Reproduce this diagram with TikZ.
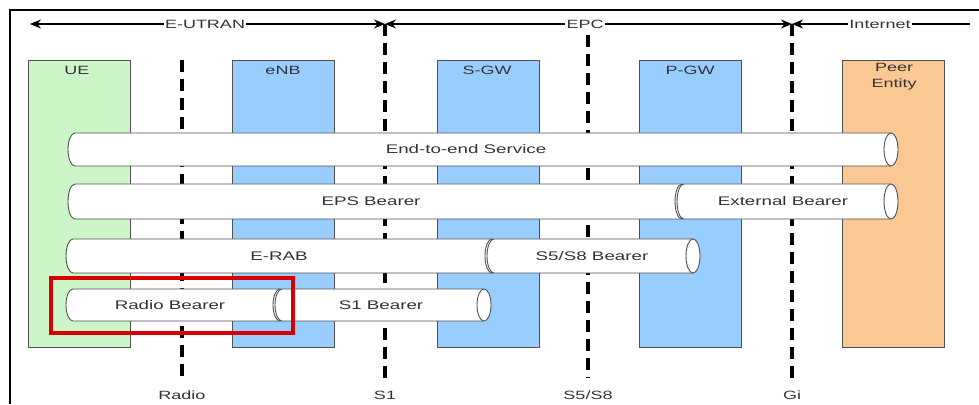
\documentclass[tikz,border=0pt]{standalone}
\usepackage{fontspec}
\setmainfont[FakeStretch=1.5]{Liberation Sans}
\usetikzlibrary{arrows.meta}
\definecolor{uegreen}{HTML}{CCF5C8}
\definecolor{nodeblue}{HTML}{99CCFF}
\definecolor{peerorange}{HTML}{FAC893}
\definecolor{txt}{HTML}{333333}
\definecolor{edge}{HTML}{505050}
\newcommand{\mypipe}[4]{% x1, x2, ytop, ybot (y up)
  \pgfmathsetmacro{\pry}{(#3-#4)/2}
  \filldraw[pipeline] (#1+7,#3) -- (#2,#3) arc[start angle=90,end angle=-90,x radius=7,y radius=\pry]
     -- (#1+7,#4) arc[start angle=270,end angle=90,x radius=7,y radius=\pry] -- cycle;
  \draw[pipeline] (#2,#3) arc[start angle=90,end angle=270,x radius=7,y radius=\pry];
}
\begin{document}
\begin{tikzpicture}[x=1pt,y=1pt,
  box/.style={draw=edge,line width=1pt,minimum width=102pt,minimum height=287pt,anchor=north west,inner sep=0pt},
  boxlabel/.style={text=txt,font=\fontsize{12}{14}\selectfont,align=center},
  pipeline/.style={draw=edge,fill=white,line width=0.9pt},
  pipelabel/.style={text=txt,font=\fontsize{12.5}{14}\selectfont},
  iface/.style={line width=3.2pt,dash pattern=on 12pt off 7pt},
  domainarrow/.style={line width=1.2pt,-{Stealth[length=11pt,width=9pt]}},
  toplabel/.style={text=txt,fill=white,inner sep=1pt,font=\fontsize{12}{14}\selectfont},
  botlabel/.style={text=txt,font=\fontsize{12}{14}\selectfont},
  highlight/.style={draw=red!85!black,line width=4pt}]
\useasboundingbox (0,0) rectangle (979,404);
% frame
\draw[line width=1.5pt] (10,0) -- (10,394) -- (979,394);
% boxes
\node[box,fill=uegreen] (ue) at (28,344) {};
\node[box,fill=nodeblue] (enb) at (232,344) {};
\node[box,fill=nodeblue] (sgw) at (437,344) {};
\node[box,fill=nodeblue] (pgw) at (639,344) {};
\node[box,fill=peerorange] (peer) at (842,344) {};
\node[boxlabel] (uel) at (77,334) {UE};
\node[boxlabel] (enbl) at (283,334) {eNB};
\node[boxlabel] (sgwl) at (487,334) {S-GW};
\node[boxlabel] (pgwl) at (690,334) {P-GW};
\node[boxlabel,font=\fontsize{12}{16}\selectfont] (peerl) at (894,327) {Peer\\Entity};
% interface lines
\coordinate (rt) at (182,344); \coordinate (rb) at (182,26);
\coordinate (s1t) at (385,380); \coordinate (s1b) at (385,26);
\coordinate (s5t) at (588,369); \coordinate (s5b) at (588,26);
\coordinate (git) at (792,380); \coordinate (gib) at (792,26);
\draw[iface] (rt) -- (rb);
\draw[iface] (s1t) -- (s1b);
\draw[iface] (s5t) -- (s5b);
\draw[iface] (git) -- (gib);
% domain arrows
\coordinate (al) at (30,380);
\coordinate (internetend) at (970,380);
\node[toplabel] (eutran) at (205,380) {E-UTRAN};
\node[toplabel] (epc) at (585,380) {EPC};
\node[toplabel] (inet) at (880,380) {Internet};
\draw[domainarrow] (eutran.west) -- (al);
\draw[domainarrow] (eutran.east) -- (s1t);
\draw[domainarrow] (epc.west) -- (s1t);
\draw[domainarrow] (epc.east) -- (git);
\draw[domainarrow] (inet.west) -- (git);
\draw[line width=1.2pt] (inet.east) -- (internetend);
% pipes
\mypipe{68}{891}{271}{238}
\node[pipelabel] (e2e) at (466,254.5) {End-to-end Service};
\mypipe{68}{682}{220}{185}
\mypipe{677}{891}{220}{185}
\node[pipelabel] (eps) at (371,202.5) {EPS Bearer};
\node[pipelabel] (ext) at (783,202.5) {External Bearer};
\mypipe{66}{492}{165}{131}
\mypipe{487}{693}{165}{131}
\node[pipelabel] (erab) at (279,148) {E-RAB};
\node[pipelabel] (s5s8) at (592,148) {S5/S8 Bearer};
\mypipe{66}{280}{115}{83}
\mypipe{275}{484}{115}{83}
\node[pipelabel] (rb) at (170,99) {Radio Bearer};
\node[pipelabel] (s1bearer) at (381,99) {S1 Bearer};
% highlight
\node[highlight,minimum width=242pt,minimum height=55pt,anchor=south west,inner sep=0pt] (hl) at (49,69) {};
% bottom labels
\node[botlabel] (radiol) at (182,9) {Radio};
\node[botlabel] (s1l) at (385,9) {S1};
\node[botlabel] (s5l) at (588,9) {S5/S8};
\node[botlabel] (gil) at (792,9) {Gi};
\end{tikzpicture}
\end{document}
